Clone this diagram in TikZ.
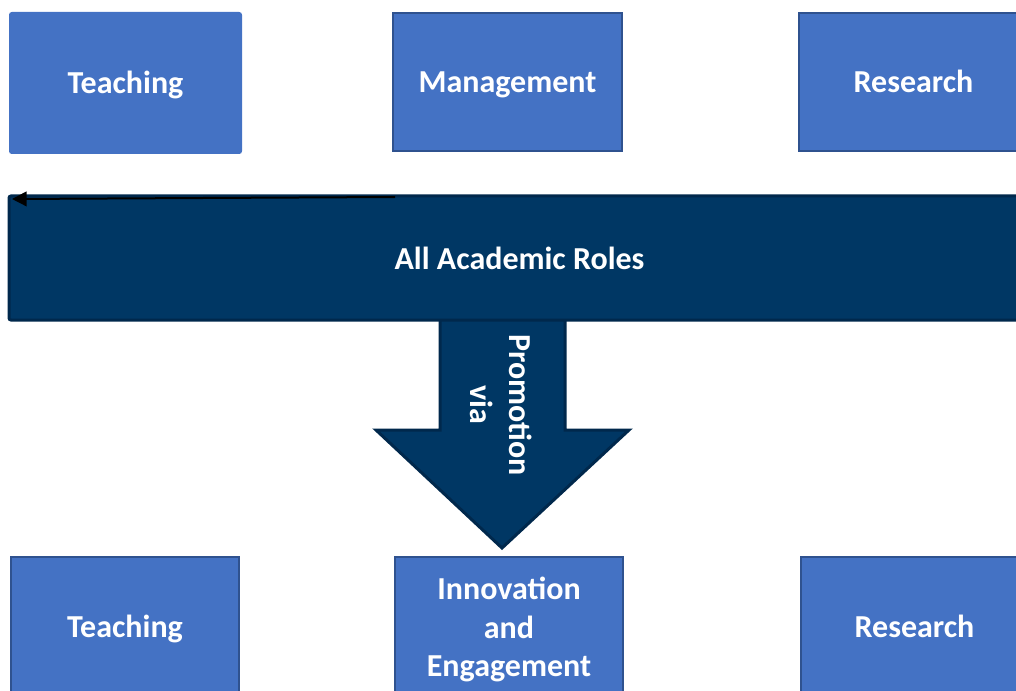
\documentclass[tikz,border=0pt]{standalone}
\usepackage{fontspec}
\setmainfont{Carlito}
\usetikzlibrary{arrows.meta}
\definecolor{boxblue}{HTML}{4472C4}
\definecolor{boxedge}{HTML}{2F528F}
\definecolor{navy}{HTML}{003764}
\definecolor{navyedge}{HTML}{00284C}
\begin{document}
\begin{tikzpicture}[x=0.75pt,y=-0.75pt,
  role/.style={draw=boxedge, fill=boxblue, line width=1.5pt, text=white,
    font=\bfseries\fontsize{24}{29}\selectfont, align=center, inner sep=0pt,
    minimum width=171.75pt, minimum height=103.5pt},
  oneline/.style={text height=15.5pt, text depth=0pt},
  bar/.style={draw=navyedge, fill=navy, line width=2.25pt, text=white,
    font=\bfseries\fontsize{24}{29}\selectfont, inner sep=0pt,
    minimum width=765.75pt, minimum height=93pt, rounded corners=1.5pt},
  bigarrow/.style={draw=navyedge, fill=navy, line width=2.25pt, line join=miter},
  label/.style={text=white, font=\bfseries\fontsize{24}{29}\selectfont, align=center},
  pointer/.style={draw=black, line width=1.5pt, -{Triangle[length=11pt,width=11pt]}}
]
\useasboundingbox (0,0) rectangle (1016,691);
\clip (0,0) rectangle (1016,691);
% top row
\node[role, oneline, draw=boxblue, rounded corners=1.5pt, minimum width=173.25pt, minimum height=105pt] (teach1) at (125.5,83) {Teaching};
\node[role, oneline] (manage) at (507.5,82) {Management};
\node[role, oneline] (research1) at (913.5,82) {Research};
% bottom row
\node[role, oneline, minimum width=171pt, minimum height=105pt] (teach2) at (125,627) {Teaching};
\node[role, text depth=-2.5pt, minimum width=171pt, minimum height=105pt] (innov) at (509,627) {Innovation\\and\\Engagement};
\node[role, oneline, minimum width=171pt, minimum height=105pt] (research2) at (914.5,627) {Research};
% down arrow
\draw[bigarrow] (440,315) -- (440,430) -- (376,430) -- (502,548) -- (629,430) -- (565,430) -- (565,315) -- cycle;
% bar
\node[bar] (roles) at (519.5,258) {All Academic Roles};
\node[label, rotate=-90] (promo) at (501,405) {Promotion\\via};
% pointer line
\coordinate (p1) at (395,197);
\coordinate (p2) at (12,199);
\draw[pointer] (p1) -- (p2);
\end{tikzpicture}
\end{document}
